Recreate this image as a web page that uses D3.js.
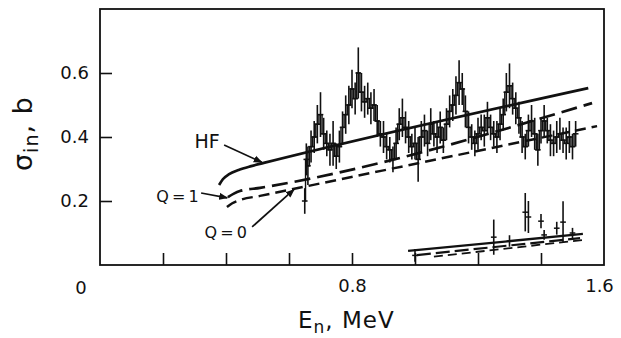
<!DOCTYPE html>
<html>
<head>
<meta charset="utf-8">
<script src="https://cdn.jsdelivr.net/npm/d3@7"></script>
<style>
  html, body { margin: 0; padding: 0; background: #fff; }
  svg { display: block; }
  text { font-family: "DejaVu Sans", "Liberation Sans", sans-serif; fill: #111; }
</style>
</head>
<body>
<svg id="chart" width="621" height="338"></svg>
<script>
// Inelastic cross section vs neutron energy: measured points (histogram with
// error bars) and Hauser-Feshbach calculations (HF, Q = 1, Q = 0).

// Measured cross section, upper group
const energies = [0.65, 0.655, 0.66, 0.67, 0.68, 0.69, 0.70, 0.71, 0.72, 0.73, 0.74, 0.75, 0.76, 0.77, 0.78, 0.79,
  0.80, 0.81, 0.82, 0.83, 0.84, 0.85, 0.86, 0.87, 0.88, 0.89, 0.90, 0.91, 0.92, 0.93, 0.94, 0.95,
  0.96, 0.97, 0.98, 0.99, 1.00, 1.01, 1.02, 1.03, 1.04, 1.05, 1.06, 1.07, 1.08, 1.09, 1.10, 1.11,
  1.12, 1.13, 1.14, 1.15, 1.16, 1.17, 1.18, 1.19, 1.20, 1.21, 1.22, 1.23, 1.24, 1.25, 1.26, 1.27,
  1.28, 1.29, 1.30, 1.31, 1.32, 1.33, 1.34, 1.35, 1.36, 1.37, 1.38, 1.39, 1.40, 1.41, 1.42, 1.43,
  1.44, 1.45, 1.46, 1.47, 1.48, 1.49, 1.50, 1.51];
const sigma = [0.20, 0.33, 0.31, 0.37, 0.40, 0.44, 0.47, 0.41, 0.38, 0.36, 0.38, 0.34, 0.37, 0.43, 0.47, 0.50,
  0.55, 0.52, 0.60, 0.54, 0.51, 0.52, 0.49, 0.50, 0.45, 0.41, 0.40, 0.37, 0.36, 0.33, 0.38, 0.44,
  0.46, 0.43, 0.40, 0.37, 0.38, 0.33, 0.40, 0.42, 0.38, 0.44, 0.41, 0.40, 0.43, 0.39, 0.44, 0.48,
  0.50, 0.53, 0.57, 0.55, 0.48, 0.43, 0.40, 0.38, 0.41, 0.43, 0.42, 0.46, 0.43, 0.41, 0.40, 0.44,
  0.47, 0.54, 0.56, 0.52, 0.49, 0.46, 0.40, 0.37, 0.42, 0.45, 0.41, 0.36, 0.42, 0.45, 0.42, 0.39,
  0.38, 0.40, 0.41, 0.39, 0.38, 0.40, 0.37, 0.41];
const sigmaErr = [0.04, 0.05, 0.06, 0.05, 0.05, 0.06, 0.07, 0.05, 0.04, 0.05, 0.07, 0.04, 0.05, 0.05, 0.06, 0.06,
  0.06, 0.05, 0.08, 0.06, 0.05, 0.05, 0.05, 0.05, 0.05, 0.04, 0.05, 0.04, 0.04, 0.04, 0.05, 0.05,
  0.06, 0.05, 0.05, 0.04, 0.05, 0.07, 0.05, 0.05, 0.04, 0.05, 0.04, 0.05, 0.05, 0.04, 0.05, 0.05,
  0.05, 0.06, 0.07, 0.05, 0.05, 0.05, 0.04, 0.04, 0.05, 0.04, 0.05, 0.05, 0.04, 0.04, 0.05, 0.05,
  0.05, 0.06, 0.07, 0.05, 0.05, 0.05, 0.05, 0.04, 0.05, 0.05, 0.05, 0.05, 0.04, 0.05, 0.04, 0.05,
  0.04, 0.05, 0.05, 0.04, 0.05, 0.05, 0.04, 0.04];

// Measured cross section, lower group
const lowEnergies = [1.00, 1.25, 1.30, 1.35, 1.36, 1.40, 1.41, 1.45, 1.47, 1.50];
const lowSigma = [0.030, 0.087, 0.075, 0.165, 0.150, 0.137, 0.094, 0.115, 0.134, 0.100];
const lowErr = [0.020, 0.055, 0.018, 0.060, 0.050, 0.022, 0.015, 0.020, 0.065, 0.016];

// Calculated curves, upper group
const hfE = [0.378, 0.39, 0.41, 0.44, 0.48, 0.52, 1.55];
const hfSigma = [0.250, 0.268, 0.284, 0.297, 0.309, 0.319, 0.553];
const q1E = [0.406, 0.425, 0.444, 0.508, 1.562];
const q1Sigma = [0.212, 0.223, 0.231, 0.241, 0.506];
const q0E = [0.403, 0.42, 0.444, 0.508, 1.578];
const q0Sigma = [0.181, 0.193, 0.203, 0.216, 0.434];

// Calculated curves, lower group
const lowHfE = [0.978, 1.533];
const lowHfSigma = [0.044, 0.097];
const lowQ1E = [1.006, 1.524];
const lowQ1Sigma = [0.031, 0.084];
const lowQ0E = [1.06, 1.53];
const lowQ0Sigma = [0.026, 0.078];

// Axis ticks and labels
const xTicks = [0.2, 0.4, 0.6, 0.8, 1.0, 1.2, 1.4];
const xTickLabels = [0.8, 1.6];
const yTicks = [0.2, 0.4, 0.6];

const svg = d3.select("#chart");
const x = d3.scaleLinear().domain([0, 1.6]).range([100, 604]);
const y = d3.scaleLinear().domain([0, 0.8]).range([265, 9]);

const ink = "#111";
const font = "'DejaVu Sans', 'Liberation Sans', sans-serif";
const tickFont = 18;

// arrowhead marker
svg.append("defs").append("marker")
  .attr("id", "arrow").attr("viewBox", "0 0 10 10")
  .attr("refX", 9).attr("refY", 5)
  .attr("markerWidth", 9).attr("markerHeight", 9)
  .attr("markerUnits", "userSpaceOnUse")
  .attr("orient", "auto")
  .append("path").attr("d", "M0,1 L10,5 L0,9 Z").attr("fill", ink);

// frame
svg.append("rect")
  .attr("x", x(0)).attr("y", y(0.8))
  .attr("width", x(1.6) - x(0)).attr("height", y(0) - y(0.8))
  .attr("fill", "none").attr("stroke", ink).attr("stroke-width", 1.8);

// inward ticks
const xAxis = svg.append("g").attr("transform", `translate(0,${y(0)})`)
  .call(d3.axisBottom(x).tickValues(xTicks).tickSize(-12).tickFormat(""));
const yAxis = svg.append("g").attr("transform", `translate(${x(0)},0)`)
  .call(d3.axisLeft(y).tickValues(yTicks).tickSize(-12).tickPadding(11).tickFormat(d3.format(".1f")));
[xAxis, yAxis].forEach(g => {
  g.select(".domain").remove();
  g.selectAll(".tick line").attr("stroke", ink).attr("stroke-width", 1.6);
});
yAxis.attr("font-family", font).attr("font-size", tickFont);
yAxis.selectAll(".tick text").attr("fill", ink);

// x tick labels
const xLab = svg.append("g").attr("transform", `translate(0,${y(0)})`)
  .call(d3.axisBottom(x).tickValues(xTickLabels).tickSize(0).tickPadding(14).tickFormat(d3.format(".1f")));
xLab.select(".domain").remove();
xLab.attr("font-family", font).attr("font-size", tickFont);
xLab.selectAll(".tick text").attr("fill", ink);
xLab.selectAll(".tick text").filter(d => d === 1.6).attr("dx", -5);
svg.append("text").attr("x", x(0) - 19).attr("y", y(0) + 29)
  .attr("text-anchor", "middle").attr("font-size", tickFont).text("0");

// axis titles
svg.append("text").attr("x", 298).attr("y", 328).attr("font-size", 23).attr("letter-spacing", 1)
  .html('E<tspan dy="5" font-size="17">n</tspan><tspan dy="-5">, MeV</tspan>');
svg.append("text")
  .attr("transform", "translate(32,171) rotate(-90)")
  .attr("font-size", 27).attr("letter-spacing", 1)
  .html('σ<tspan dy="6" font-size="19">in</tspan><tspan dy="-6">, b</tspan>');

// calculated curves
const curve = (ex, sy) => d3.line().curve(d3.curveMonotoneX)
  .x((d, i) => x(ex[i])).y((d, i) => y(sy[i]))(ex);
function drawCurve(ex, sy, dash, w) {
  svg.append("path").attr("d", curve(ex, sy))
    .attr("fill", "none").attr("stroke", ink).attr("stroke-width", w)
    .attr("stroke-dasharray", dash);
}
drawCurve(hfE, hfSigma, null, 2.7);
drawCurve(q1E, q1Sigma, "16,7", 2.7);
drawCurve(q0E, q0Sigma, "11,6", 2.5);
drawCurve(lowHfE, lowHfSigma, null, 2.3);
drawCurve(lowQ1E, lowQ1Sigma, "14,5", 2.2);
drawCurve(lowQ0E, lowQ0Sigma, "9,5", 1.8);

// measured data: step histogram with error bars
function drawData(ex, sy, err, withSteps) {
  const g = svg.append("g");
  const pts = ex.map((e, i) => ({ e, s: sy[i], d: err[i] }));
  if (withSteps) {
    g.append("path")
      .attr("d", d3.line().curve(d3.curveStep).x(p => x(p.e)).y(p => y(p.s))(pts))
      .attr("fill", "none").attr("stroke", ink).attr("stroke-width", 1.4);
  }
  g.selectAll("line.err").data(pts).join("line").attr("class", "err")
    .attr("x1", p => x(p.e)).attr("x2", p => x(p.e))
    .attr("y1", p => y(p.s + p.d)).attr("y2", p => y(p.s - p.d))
    .attr("stroke", ink).attr("stroke-width", 1.6);
  g.selectAll("line.bin").data(pts).join("line").attr("class", "bin")
    .attr("x1", p => x(p.e - 0.009)).attr("x2", p => x(p.e + 0.009))
    .attr("y1", p => y(p.s)).attr("y2", p => y(p.s))
    .attr("stroke", ink).attr("stroke-width", 1.5);
}
drawData(energies, sigma, sigmaErr, true);
drawData(lowEnergies, lowSigma, lowErr, false);

// curve labels with pointer arrows
function label(txt, ex, sy, size, anchor) {
  svg.append("text").attr("x", x(ex)).attr("y", y(sy)).attr("font-size", size)
    .attr("word-spacing", -2).attr("text-anchor", anchor || "start").text(txt);
}
function pointer(e0, s0, e1, s1) {
  svg.append("line")
    .attr("x1", x(e0)).attr("y1", y(s0)).attr("x2", x(e1)).attr("y2", y(s1))
    .attr("stroke", ink).attr("stroke-width", 1.7).attr("marker-end", "url(#arrow)");
}
label("HF", 0.300, 0.366, 19);
pointer(0.394, 0.375, 0.514, 0.321);
label("Q = 1", 0.313, 0.196, 16, "end");
pointer(0.321, 0.225, 0.404, 0.210);
label("Q = 0", 0.332, 0.084, 16);
pointer(0.483, 0.119, 0.616, 0.236);
</script>
</body>
</html>
